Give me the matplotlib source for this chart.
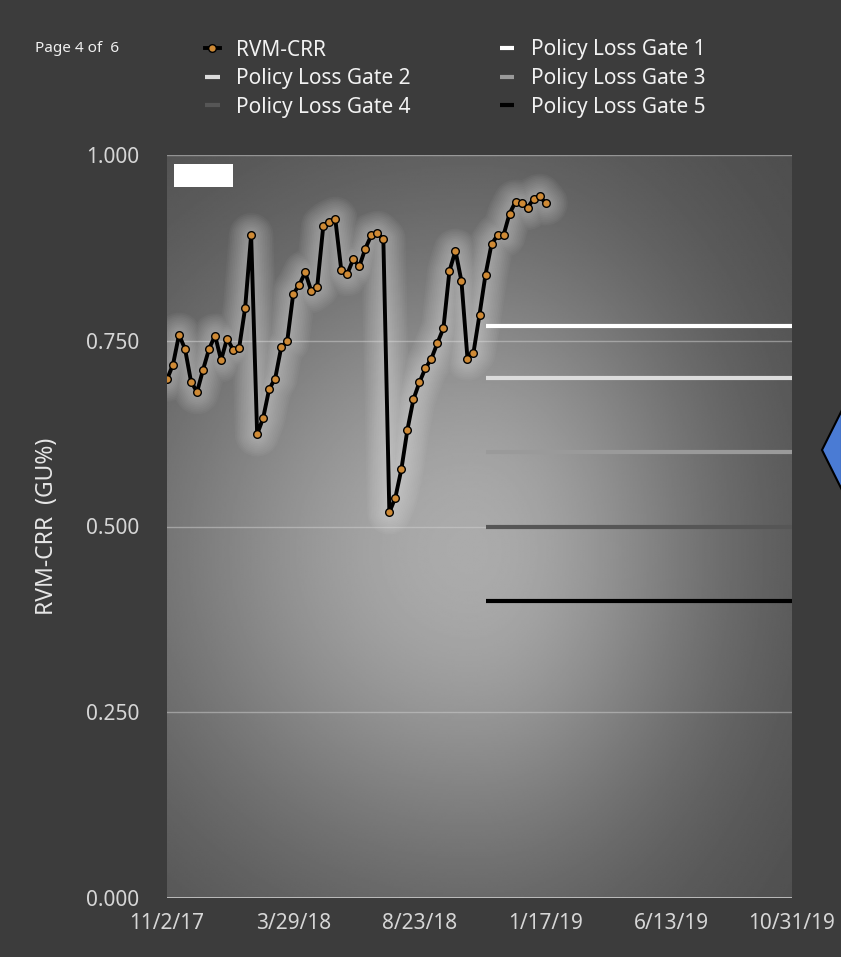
import numpy as np
import pandas as pd
import matplotlib
matplotlib.use("Agg")
import matplotlib.pyplot as plt
from matplotlib.patches import Rectangle, Polygon

plt.rcParams["font.family"] = ["Noto Sans", "DejaVu Sans"]

# weekly RVM-CRR readings starting 11/2/17
start_date = "2017-11-02"
rvm_crr = [0.698, 0.718, 0.758, 0.739, 0.695, 0.681, 0.711, 0.739, 0.757, 0.724,
           0.753, 0.738, 0.740, 0.794, 0.892, 0.624, 0.646, 0.685, 0.699, 0.741,
           0.749, 0.813, 0.825, 0.842, 0.817, 0.823, 0.904, 0.910, 0.914, 0.845,
           0.840, 0.860, 0.850, 0.874, 0.892, 0.895, 0.887, 0.519, 0.539, 0.577,
           0.630, 0.671, 0.694, 0.713, 0.726, 0.747, 0.767, 0.844, 0.871, 0.830,
           0.726, 0.734, 0.785, 0.839, 0.880, 0.892, 0.892, 0.921, 0.937, 0.936,
           0.929, 0.941, 0.945, 0.935]
dates = pd.date_range(start_date, periods=len(rvm_crr), freq="7D")

gate_names = ["Policy Loss Gate 1", "Policy Loss Gate 2", "Policy Loss Gate 3",
              "Policy Loss Gate 4", "Policy Loss Gate 5"]
gate_values = [0.77, 0.70, 0.60, 0.50, 0.40]
gate_colors = ["#ffffff", "#dcdcdc", "#9a9a9a", "#565656", "#000000"]
gate_start, gate_end = "2018-11-08", "2019-10-31"

tick_dates = ["2017-11-02", "2018-03-29", "2018-08-23", "2019-01-17", "2019-06-13", "2019-10-31"]
tick_labels = ["11/2/17", "3/29/18", "8/23/18", "1/17/19", "6/13/19", "10/31/19"]
y_ticks = [0.0, 0.25, 0.5, 0.75, 1.0]

BG = "#3c3c3c"
TXT = "#d6d6d6"

fig = plt.figure(figsize=(8.41, 9.57), dpi=100, facecolor=BG)
W, H = 841, 957
x0, x1, y0, y1 = 167, 792, 155, 898
pos = [x0 / W, 1 - y1 / H, (x1 - x0) / W, (y1 - y0) / H]

# radial-ish gradient background of the plot area (brighter toward the left)
bg = fig.add_axes(pos, zorder=0)
yy, xx = np.mgrid[0:1:400j, 0:1:400j]
cx, cy = (471 - x0) / (x1 - x0), (y1 - 551) / (y1 - y0)
dx = (xx - cx) * (x1 - x0)
sx = np.where(dx < 0, 340.0, 250.0)
dy = (yy - cy) * (y1 - y0)
shade = 0.29 + 0.38 * np.exp(-((dx / sx) ** 2 + (dy / 330.0) ** 2))
bg.imshow(shade, cmap="gray", vmin=0, vmax=1, extent=[0, 1, 0, 1],
          origin="lower", aspect="auto", interpolation="bilinear")
bg.axis("off")

ax = fig.add_axes(pos, zorder=1)
ax.patch.set_alpha(0)
for s in ax.spines.values():
    s.set_visible(False)

ax.set_ylim(0, 1.0)
ax.set_xlim(pd.Timestamp("2017-11-02"), pd.Timestamp("2019-10-31"))
ax.set_yticks(y_ticks)
ax.set_yticklabels([f"{v:.3f}" for v in y_ticks])
ax.set_xticks([pd.Timestamp(t) for t in tick_dates])
ax.set_xticklabels(tick_labels)
ax.tick_params(axis="both", length=0, colors=TXT, labelsize=15)
ax.tick_params(axis="y", pad=20)
ax.tick_params(axis="x", pad=11)
for v in y_ticks[1:]:
    ax.axhline(v, color="#d0d0d0", lw=1, alpha=0.5, zorder=1)
ax.axhline(0, color="#c4c4c4", lw=2, zorder=1)

ax.set_ylabel("RVM-CRR  (GU%)", color="#e6e6e6", fontsize=16.5, labelpad=19)

# gate lines
gate_handles = []
for name, v, c in zip(gate_names, gate_values, gate_colors):
    h, = ax.plot([pd.Timestamp(gate_start), pd.Timestamp(gate_end)], [v, v],
                 color=c, lw=3, solid_capstyle="butt", zorder=2, label=name)
    gate_handles.append(h)

# soft glow under series line
for lw in np.linspace(32, 5, 12):
    ax.plot(dates, rvm_crr, color="white", lw=lw, alpha=0.035, zorder=3,
            solid_joinstyle="round", solid_capstyle="round")
rvm, = ax.plot(dates, rvm_crr, color="black", lw=2.8, marker="o", markersize=5.5,
               markerfacecolor="#cf8a35", markeredgecolor="black", markeredgewidth=1,
               zorder=4, label="RVM-CRR")

# small white box top-left
ax.add_patch(Rectangle(((174 - x0) / (x1 - x0), 1 - (187 - y0) / (y1 - y0)),
                       59 / (x1 - x0), 23 / (y1 - y0), transform=ax.transAxes,
                       facecolor="white", edgecolor="none", zorder=5))

# legend in row-major order
order = [rvm, gate_handles[1], gate_handles[3], gate_handles[0], gate_handles[2], gate_handles[4]]
leg = fig.legend(handles=order, labels=[h.get_label() for h in order], ncol=2,
                 loc="upper left", bbox_to_anchor=(205 / W, 1 - 39.5 / H),
                 frameon=False, fontsize=15, handlelength=0.7, handletextpad=0.8,
                 columnspacing=4.26, labelspacing=0.36, borderpad=0, borderaxespad=0)
for t in leg.get_texts():
    t.set_color("#f2f2f2")

fig.text(35 / W, 1 - 49 / H, "Page 4 of  6", color="#f0f0f0", fontsize=11, va="center")

# blue arrow shape on right edge
fig.patches.append(Polygon([(822 / W, 1 - 450 / H), (842 / W, 1 - 410 / H),
                            (842 / W, 1 - 490 / H)], closed=True,
                           transform=fig.transFigure, facecolor="#4a7bd4",
                           edgecolor="black", lw=1.5, zorder=5))

fig.savefig("out.png", dpi=100, facecolor=BG)
